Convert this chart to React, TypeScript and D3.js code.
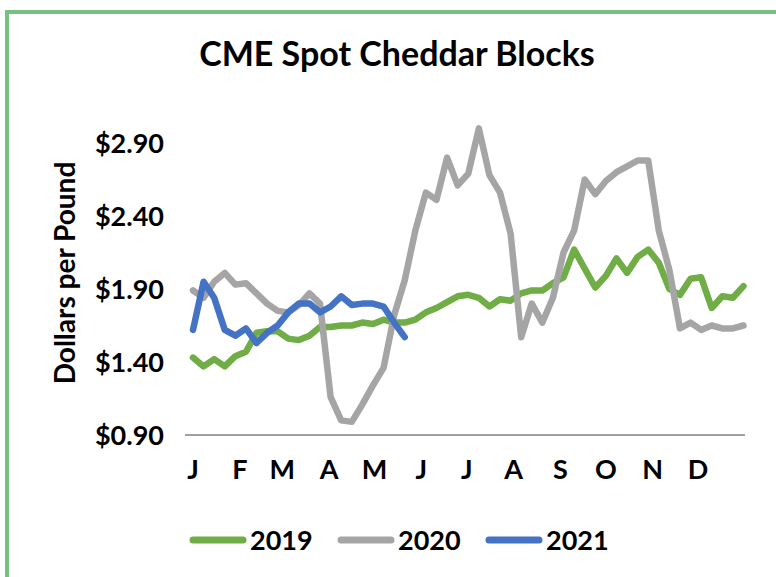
import * as d3 from "d3"

// month labels sit on the first day of each month
const months = ["J", "F", "M", "A", "M", "J", "J", "A", "S", "O", "N", "D"]
const monthStartDays = [0, 31, 59, 90, 120, 151, 181, 212, 243, 273, 304, 334]

const yTicks = [0.9, 1.4, 1.9, 2.4, 2.9]

// weekly prices, $/lb
const prices2019 = [
  1.43, 1.37, 1.42, 1.37, 1.44, 1.47, 1.6, 1.61, 1.61, 1.56, 1.55, 1.58, 1.64, 1.64, 1.65, 1.65, 1.67, 1.66,
  1.69, 1.67, 1.67, 1.69, 1.74, 1.77, 1.81, 1.85, 1.86, 1.84, 1.78, 1.83, 1.82, 1.87, 1.89, 1.89, 1.94, 1.98,
  2.17, 2.04, 1.91, 1.99, 2.11, 2.01, 2.12, 2.17, 2.08, 1.9, 1.86, 1.97, 1.98, 1.77, 1.85, 1.84, 1.92,
]
const prices2020 = [
  1.89, 1.84, 1.95, 2.01, 1.93, 1.94, 1.87, 1.8, 1.75, 1.74, 1.79, 1.87, 1.8, 1.16, 1.0, 0.99, 1.11, 1.24,
  1.36, 1.72, 1.96, 2.3, 2.56, 2.51, 2.8, 2.61, 2.69, 3.0, 2.68, 2.56, 2.28, 1.57, 1.8, 1.67, 1.84, 2.15,
  2.3, 2.65, 2.55, 2.64, 2.7, 2.74, 2.78, 2.78, 2.3, 2.03, 1.63, 1.67, 1.62, 1.65, 1.63, 1.63, 1.65,
]
const prices2021 = [
  1.62, 1.95, 1.84, 1.62, 1.58, 1.63, 1.53, 1.6, 1.65, 1.74, 1.8, 1.8, 1.74, 1.78, 1.85, 1.79, 1.8, 1.8,
  1.78, 1.67, 1.57,
]

const seriesNames = ["2019", "2020", "2021"]
const seriesColors = ["#70AD47", "#A5A5A5", "#4472C4"]
const seriesData = [prices2019, prices2020, prices2021]

const W = 776
const H = 577
const FONT = "Lato, 'Open Sans', sans-serif"

export default function App() {
  const x = d3.scaleLinear().domain([0, 365]).range([193, 745])
  const y = d3.scaleLinear().domain([0.9, 2.9]).range([435, 143])

  const line = d3
    .line<number>()
    .x((_, i) => x(i * 7))
    .y((d) => y(d))

  return (
    <svg
      width={W}
      height={H}
      style={{ position: "absolute", left: 0, top: 0, background: "#fff" }}
      fontFamily={FONT}
      fontWeight="bold"
    >
      {/* chart frame */}
      <rect x={7} y={12} width={W + 20} height={H + 20} fill="#fff" stroke="#76C081" strokeWidth={4} />

      <text x={397} y={66} textAnchor="middle" fontSize={34} fill="#000">
        CME Spot Cheddar Blocks
      </text>

      {/* y axis */}
      <text transform="translate(75,273) rotate(-90)" textAnchor="middle" fontSize={28} fill="#000">
        Dollars per Pound
      </text>
      {yTicks.map((t) => (
        <text key={t} x={164} y={y(t)} dy="0.36em" textAnchor="end" fontSize={27} fill="#000">
          {d3.format("$.2f")(t)}
        </text>
      ))}

      {/* x axis */}
      <line x1={185} x2={745} y1={y(0.9)} y2={y(0.9)} stroke="#A0A0A0" strokeWidth={2} />
      {months.map((m, i) => (
        <text key={i} x={x(monthStartDays[i])} y={479} textAnchor="middle" fontSize={27} fill="#000">
          {m}
        </text>
      ))}

      {/* series */}
      {seriesData.map((d, i) => (
        <path
          key={seriesNames[i]}
          d={line(d) ?? ""}
          fill="none"
          stroke={seriesColors[i]}
          strokeWidth={6.5}
          strokeLinejoin="round"
          strokeLinecap="round"
        />
      ))}

      {/* legend */}
      {seriesNames.map((name, i) => {
        const lx = 193 + i * 148
        return (
          <g key={name} transform={`translate(${lx},540)`}>
            <line x1={0} x2={50} y1={0} y2={0} stroke={seriesColors[i]} strokeWidth={7} strokeLinecap="round" />
            <text x={57} y={0} dy="0.36em" fontSize={27} fill="#000">
              {name}
            </text>
          </g>
        )
      })}
    </svg>
  )
}
